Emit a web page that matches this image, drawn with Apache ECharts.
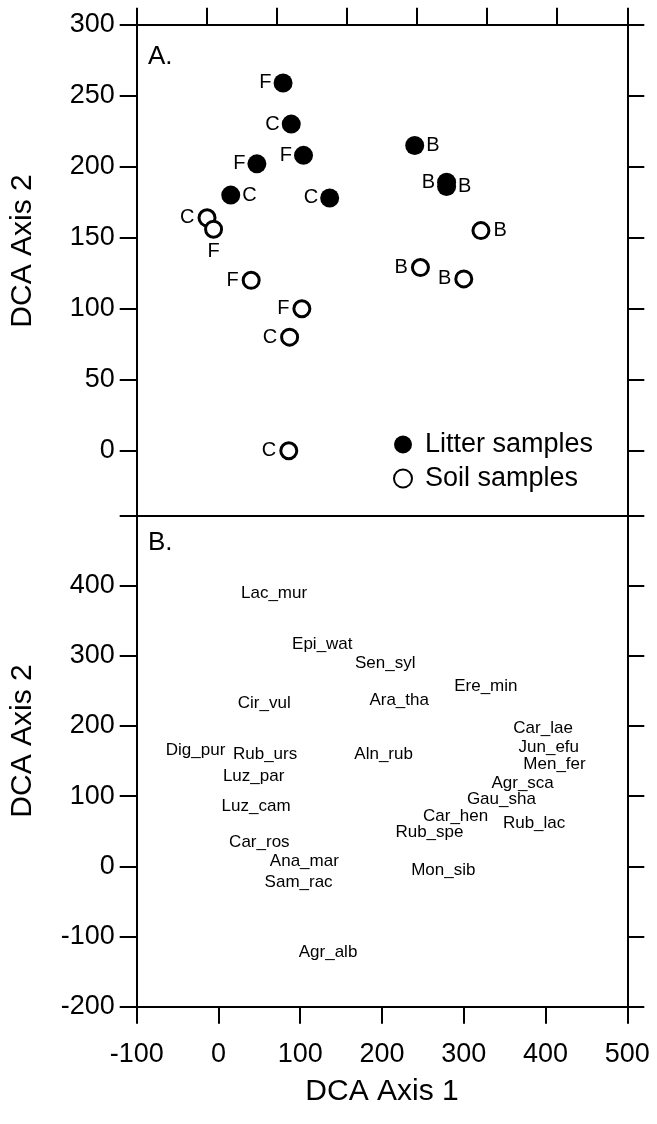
<!DOCTYPE html>
<html>
<head>
<meta charset="utf-8">
<script src="https://cdn.jsdelivr.net/npm/echarts@6/dist/echarts.min.js"></script>
<style>
html,body{margin:0;padding:0;background:#fff;}
#chart{width:657px;height:1124px;}
</style>
</head>
<body>
<div id="chart"></div>
<script>
// Panel A: litter samples (filled circles)
var litterX = [79, 89, 104, 47, 15, 136, 240, 279, 279];
var litterY = [259, 230, 208, 202, 180, 178, 215, 189, 186];
var litterLabel = ['F', 'C', 'F', 'F', 'C', 'C', 'B', 'B', 'B'];
var litterSide = ['left', 'left', 'left', 'left', 'right', 'left', 'right', 'left', 'right'];

// Panel A: soil samples (open circles)
var soilX = [-14, -6, 40, 102, 87, 86, 247, 300, 321];
var soilY = [164, 156, 120, 100, 80, 0, 129, 121, 155];
var soilLabel = ['C', 'F', 'F', 'F', 'C', 'C', 'B', 'B', 'B'];
var soilSide = ['left', 'bottom', 'left', 'left', 'left', 'left', 'left', 'left', 'right'];

// Panel B: species scores
var speciesNames = ['Lac_mur', 'Epi_wat', 'Sen_syl', 'Ere_min', 'Ara_tha', 'Cir_vul', 'Car_lae', 'Dig_pur', 'Rub_urs', 'Aln_rub', 'Jun_efu', 'Men_fer', 'Luz_par', 'Agr_sca', 'Gau_sha', 'Luz_cam', 'Car_hen', 'Rub_lac', 'Rub_spe', 'Car_ros', 'Ana_mar', 'Mon_sib', 'Sam_rac', 'Agr_alb'];
var speciesX = [68, 127, 204, 327, 221, 56, 397, -28, 57, 202, 404, 411, 43, 372, 346, 46, 290, 386, 258, 50, 105, 275, 98, 134];
var speciesY = [389, 316, 289, 257, 237, 232, 197, 166, 160, 159, 169, 145, 129, 119, 95, 85, 72, 62, 48, 34, 7, -5, -23, -122];

// Axis ticks
var xTicks = [-100, 0, 100, 200, 300, 400, 500];
var yTicksA = [0, 50, 100, 150, 200, 250, 300];
var yTicksB = [-200, -100, 0, 100, 200, 300, 400, 500];
var topTickCount = 7;

var FONT = '"Liberation Sans", Arial, Helvetica, sans-serif';
var LW = 2;

function pts(xs, ys, labels, sides) {
  return xs.map(function (x, i) {
    return {
      value: [x, ys[i]],
      label: { formatter: labels[i], position: sides[i] }
    };
  });
}

var chart = echarts.init(document.getElementById('chart'), null, { renderer: 'canvas' });

var axisLineStyle = { show: true, onZero: false, lineStyle: { color: '#000', width: LW } };
var tickStyle = { show: true, inside: false, length: 17, lineStyle: { color: '#000', width: LW } };

var gridA = { left: 136.7, top: 24.7, width: 490.6, height: 490.8 };
var gridB = { left: 136.7, top: 515.5, width: 490.6, height: 491.2 };

var option = {
  animation: false,
  backgroundColor: '#fff',
  textStyle: { fontFamily: FONT },
  grid: [gridA, gridB],
  xAxis: [
    {
      gridIndex: 0, type: 'value', position: 'bottom', min: xTicks[0], max: xTicks[xTicks.length - 1], interval: 100,
      axisLine: axisLineStyle, axisTick: { show: false }, axisLabel: { show: false }, splitLine: { show: false }
    },
    {
      gridIndex: 0, type: 'value', position: 'top', min: 0, max: topTickCount, interval: 1,
      axisLine: axisLineStyle, axisTick: tickStyle, axisLabel: { show: false }, splitLine: { show: false }
    },
    {
      gridIndex: 1, type: 'value', position: 'bottom', min: xTicks[0], max: xTicks[xTicks.length - 1], interval: 100,
      axisLine: axisLineStyle, axisTick: tickStyle,
      axisLabel: { show: true, color: '#000', fontSize: 27, fontFamily: FONT, margin: 34, customValues: xTicks },
      splitLine: { show: false }
    }
  ],
  yAxis: [
    {
      gridIndex: 0, type: 'value', position: 'left', min: -45.6, max: 300,
      axisLine: axisLineStyle,
      axisTick: { show: true, inside: false, length: 17, lineStyle: { color: '#000', width: LW }, customValues: yTicksA },
      axisLabel: { show: true, color: '#000', fontSize: 27, fontFamily: FONT, margin: 22, customValues: yTicksA },
      splitLine: { show: false }
    },
    {
      gridIndex: 0, type: 'value', position: 'right', min: -45.6, max: 300,
      axisLine: axisLineStyle,
      axisTick: { show: true, inside: false, length: 17, lineStyle: { color: '#000', width: LW }, customValues: yTicksA },
      axisLabel: { show: false }, splitLine: { show: false }
    },
    {
      gridIndex: 1, type: 'value', position: 'left', min: yTicksB[0], max: yTicksB[yTicksB.length - 1], interval: 100,
      axisLine: axisLineStyle, axisTick: tickStyle,
      axisLabel: {
        show: true, color: '#000', fontSize: 27, fontFamily: FONT, margin: 22,
        formatter: function (v) { return v === 500 ? '' : String(v); }
      },
      splitLine: { show: false }
    },
    {
      gridIndex: 1, type: 'value', position: 'right', min: yTicksB[0], max: yTicksB[yTicksB.length - 1], interval: 100,
      axisLine: axisLineStyle, axisTick: tickStyle, axisLabel: { show: false }, splitLine: { show: false }
    }
  ],
  legend: {
    show: true, orient: 'vertical', left: 388, top: 426,
    itemWidth: 34, itemHeight: 18, itemGap: 7,
    textStyle: { color: '#000', fontSize: 27, fontFamily: FONT, lineHeight: 27 },
    data: [
      { name: 'Litter samples', icon: 'circle' },
      { name: 'Soil samples', icon: 'circle' }
    ]
  },
  series: [
    {
      name: 'Litter samples', type: 'scatter', xAxisIndex: 0, yAxisIndex: 0,
      symbol: 'circle', symbolSize: 19,
      itemStyle: { color: '#000', borderColor: '#000', borderWidth: 0, opacity: 1 },
      label: { show: true, color: '#000', fontSize: 20, fontFamily: FONT, distance: 2 },
      data: pts(litterX, litterY, litterLabel, litterSide),
      z: 3
    },
    {
      name: 'Soil samples', type: 'scatter', xAxisIndex: 0, yAxisIndex: 0,
      symbol: 'circle', symbolSize: 16,
      itemStyle: { color: '#fff', borderColor: '#000', borderWidth: 3, opacity: 1 },
      label: { show: true, color: '#000', fontSize: 20, fontFamily: FONT, distance: 3 },
      data: pts(soilX, soilY, soilLabel, soilSide),
      z: 4
    },
    {
      name: 'Species', type: 'scatter', xAxisIndex: 2, yAxisIndex: 2,
      symbol: 'circle', symbolSize: 0,
      itemStyle: { color: '#000', opacity: 1 },
      label: {
        show: true, position: 'inside', color: '#000', fontSize: 17, fontFamily: FONT,
        textBorderWidth: 0, opacity: 1,
        formatter: function (p) { return p.name; }
      },
      data: speciesNames.map(function (n, i) { return { name: n, value: [speciesX[i], speciesY[i]] }; })
    }
  ],
  graphic: [
    { type: 'text', left: 148, top: 44, style: { text: 'A.', font: '26px ' + FONT, fill: '#000' } },
    { type: 'text', left: 148, top: 530, style: { text: 'B.', font: '26px ' + FONT, fill: '#000' } },
    {
      type: 'text', x: 23, y: 251, rotation: Math.PI / 2,
      style: { text: 'DCA Axis 2', font: '30px ' + FONT, fill: '#000', align: 'center', verticalAlign: 'middle' }
    },
    {
      type: 'text', x: 23, y: 741, rotation: Math.PI / 2,
      style: { text: 'DCA Axis 2', font: '30px ' + FONT, fill: '#000', align: 'center', verticalAlign: 'middle' }
    },
    {
      type: 'text', x: 382, y: 1092,
      style: { text: 'DCA Axis 1', font: '30px ' + FONT, fill: '#000', align: 'center', verticalAlign: 'middle' }
    }
  ]
};

chart.setOption(option);
</script>
</body>
</html>
